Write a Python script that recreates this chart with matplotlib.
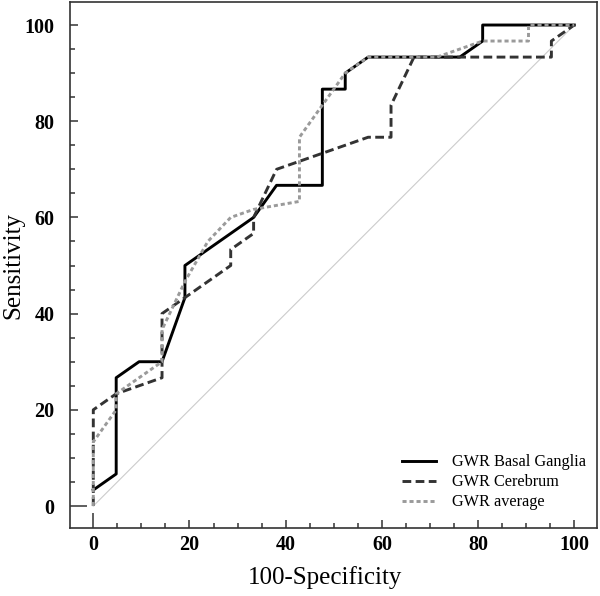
import matplotlib
matplotlib.use('Agg')
import matplotlib.pyplot as plt
from matplotlib.ticker import MultipleLocator

plt.rcParams['font.family'] = ['Liberation Serif', 'DejaVu Serif']

# ROC curves (100-specificity, sensitivity)
basal_x = [0, 4.76, 4.76, 9.52, 14.29, 19.05, 19.05, 33.33, 38.10, 47.62, 47.62,
           52.38, 52.38, 57.14, 76.19, 80.95, 80.95, 100]
basal_y = [3.33, 6.67, 26.67, 30.0, 30.0, 43.33, 50.0, 60.0, 66.67, 66.67, 86.67,
           86.67, 90.0, 93.33, 93.33, 96.67, 100, 100]

cereb_x = [0, 0, 4.76, 14.29, 14.29, 19.05, 28.57, 28.57, 33.33, 33.33, 38.10,
           57.14, 61.90, 61.90, 66.67, 95.24, 95.24, 100]
cereb_y = [0, 20.0, 23.33, 26.67, 40.0, 43.33, 50.0, 53.33, 56.67, 60.0, 70.0,
           76.67, 76.67, 83.33, 93.33, 93.33, 96.67, 100]

avg_x = [0, 0, 4.76, 4.76, 14.29, 14.29, 19.05, 23.81, 28.57, 33.33, 38.10, 42.86,
         42.86, 52.38, 57.14, 71.43, 80.95, 90.48, 90.48, 100]
avg_y = [0, 13.33, 20.0, 23.33, 30.0, 36.67, 46.67, 55.0, 60.0, 61.67, 62.5, 63.33,
         76.67, 90.0, 93.33, 93.33, 96.67, 96.67, 100, 100]

ref_line = [0, 100]
ticks = [0, 20, 40, 60, 80, 100]

fig = plt.figure(figsize=(6, 5.96), dpi=100)
ax = fig.add_axes([0.1167, 0.1141, 0.8778, 0.8825])

ax.plot(ref_line, ref_line, color='#cccccc', lw=0.8, zorder=1)
ax.plot(basal_x, basal_y, color='black', lw=2.1, label='GWR Basal Ganglia', zorder=3)
ax.plot(cereb_x, cereb_y, color='#333333', lw=2.1, linestyle=(0, (3.0, 1.5)),
        label='GWR Cerebrum', zorder=4)
ax.plot(avg_x, avg_y, color='#9a9a9a', lw=2.1, linestyle=(0, (1.4, 1.0)),
        label='GWR average', zorder=5)

ax.set_xlim(-4.84, 104.66)
ax.set_ylim(-4.57, 104.78)
ax.set_xticks(ticks)
ax.set_yticks(ticks)
ax.xaxis.set_minor_locator(MultipleLocator(5))
ax.yaxis.set_minor_locator(MultipleLocator(5))

for s in ax.spines.values():
    s.set_color('#333333')
    s.set_linewidth(1.2)

ax.tick_params(which='major', direction='in', length=6, width=1.1, color='#333333',
               top=False, right=False, labelsize=14.5)
ax.tick_params(which='minor', direction='in', length=3.5, width=1.1, color='#333333',
               top=False, right=False)
ax.tick_params(axis='x', which='major', pad=5)
ax.tick_params(axis='y', which='major', pad=11)
for lab in ax.get_xticklabels() + ax.get_yticklabels():
    lab.set_fontweight('bold')

# the 0 ticks are drawn longer
ax.xaxis.get_major_ticks()[0].tick1line.set_markersize(11)
ax.yaxis.get_major_ticks()[0].tick1line.set_markersize(12)

ax.set_xlabel('100-Specificity', fontsize=18)
ax.set_ylabel('Sensitivity', fontsize=18)
ax.xaxis.set_label_coords(0.484, -0.072)
ax.yaxis.set_label_coords(-0.087, 0.5)

ax.legend(loc='upper left', bbox_to_anchor=(0.630, 0.140), frameon=False,
          fontsize=11.7, handlelength=2.1, handletextpad=1.0, labelspacing=0.25,
          borderpad=0, borderaxespad=0)

fig.savefig('out.png', dpi=100)
